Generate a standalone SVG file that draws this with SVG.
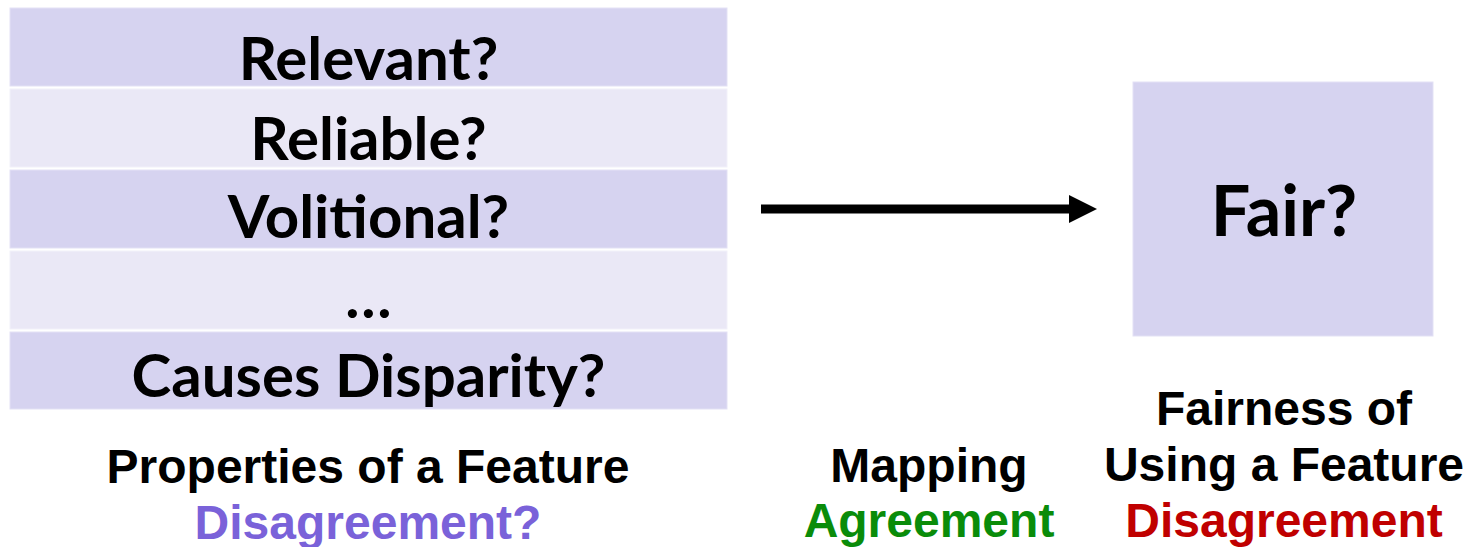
<svg xmlns="http://www.w3.org/2000/svg" width="1474" height="547" viewBox="0 0 1474 547">
<defs>
<style>
.dark{fill:#d6d3f0;stroke:#e3e1f5;stroke-width:1}
.light{fill:#eae8f6;stroke:#f2f1fa;stroke-width:1}
.q{font-family:Lato,"Open Sans",sans-serif;font-weight:bold;font-size:60px;fill:#000;text-anchor:middle}
.cap{font-family:"Liberation Sans",Arial,sans-serif;font-weight:bold;font-size:48px;text-anchor:middle}
</style>
<marker id="ah" viewBox="0 0 28 28" refX="0" refY="14" markerUnits="userSpaceOnUse" markerWidth="28" markerHeight="28" orient="auto">
<path d="M0,0 L28,14 L0,28 Z" fill="#000"/>
</marker>
</defs>
<rect width="1474" height="547" fill="#fff"/>
<g id="row-relevant"><rect class="dark" x="10" y="8" width="717" height="78"/><text class="q" x="368.5" y="80">Relevant?</text></g>
<g id="row-reliable"><rect class="light" x="10" y="89" width="717" height="78"/><text class="q" x="368.5" y="160">Reliable?</text></g>
<g id="row-volitional"><rect class="dark" x="10" y="170" width="717" height="78"/><text class="q" x="368.5" y="238">Volitional?</text></g>
<g id="row-ellipsis"><rect class="light" x="10" y="251" width="717" height="78"/><text class="q" x="368.5" y="318">…</text></g>
<g id="row-causes"><rect class="dark" x="10" y="332" width="717" height="77"/><text class="q" x="368.5" y="397">Causes Disparity?</text></g>
<g id="fair"><rect class="dark" x="1133" y="82" width="300" height="254"/><text class="q" x="1284" y="236" style="font-size:70px">Fair?</text></g>
<g id="connectors"><line x1="761" y1="209" x2="1069" y2="209" stroke="#000" stroke-width="9" marker-end="url(#ah)"/></g>
<g id="label-properties"><text class="cap" x="368" y="483">Properties of a Feature</text><text class="cap" x="368" y="539" fill="#7a62d9">Disagreement?</text></g>
<g id="label-mapping"><text class="cap" x="929" y="482">Mapping</text><text class="cap" x="929" y="537" fill="#0a8c0a">Agreement</text></g>
<g id="label-fairness"><text class="cap" x="1284" y="425">Fairness of</text><text class="cap" x="1284" y="481">Using a Feature</text><text class="cap" x="1284" y="537" fill="#c00000">Disagreement</text></g>
</svg>
